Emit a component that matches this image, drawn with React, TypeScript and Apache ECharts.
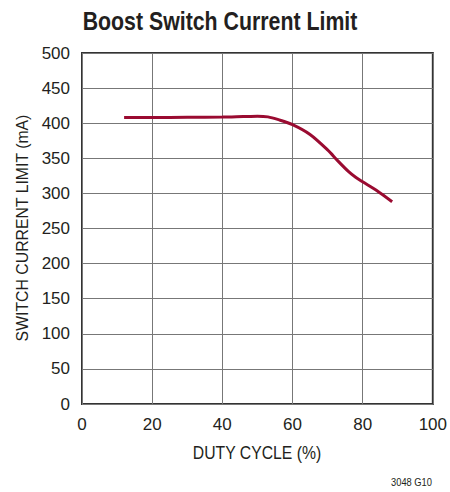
import React, { useEffect, useRef } from "react";
import * as echarts from "echarts";

const titleText = "Boost Switch Current Limit";
const xAxisName = "DUTY CYCLE (%)";
const yAxisName = "SWITCH CURRENT LIMIT (mA)";
const footnote = "3048 G10";

const dutyCycle = [12, 20, 30, 40, 46, 50, 53, 56, 60, 65, 70, 73, 76, 78, 80, 84, 88.4];
const currentLimit = [408, 408, 408.3, 408.7, 409.5, 410, 409, 405, 398, 384, 362, 346, 331, 323, 316.5, 304, 288];

const FONT = "'Liberation Sans', Arial, sans-serif";
const INK = "#231f20";

export default function App() {
  const ref = useRef<HTMLDivElement>(null);
  useEffect(() => {
    if (!ref.current) return;
    const chart = echarts.init(ref.current, undefined, { renderer: "svg" });
    const data = dutyCycle.map((d, i) => [d, currentLimit[i]]);
    chart.setOption({
      animation: false,
      backgroundColor: "#ffffff",
      grid: {
        left: 82,
        top: 53,
        width: 351,
        height: 351,
        show: true,
        borderColor: "#333333",
        borderWidth: 2,
        backgroundColor: "transparent",
      },
      xAxis: {
        type: "value",
        min: 0,
        max: 100,
        interval: 20,
        axisLine: { show: false },
        axisTick: { show: false },
        axisLabel: { fontFamily: FONT, fontSize: 17, color: INK, margin: 12 },
        splitLine: { show: true, lineStyle: { color: "#777777", width: 1 } },
      },
      yAxis: {
        type: "value",
        min: 0,
        max: 500,
        interval: 50,
        axisLine: { show: false },
        axisTick: { show: false },
        axisLabel: { fontFamily: FONT, fontSize: 17, color: INK, margin: 12 },
        splitLine: { show: true, lineStyle: { color: "#777777", width: 1 } },
      },
      graphic: [
        {
          type: "text",
          x: 220,
          y: 21,
          scaleX: 0.82,
          style: {
            text: titleText,
            font: `bold 26px ${FONT}`,
            fill: INK,
            textAlign: "center",
            textVerticalAlign: "middle",
          },
        },
        {
          type: "text",
          x: 257,
          y: 452,
          scaleX: 0.83,
          style: {
            text: xAxisName,
            font: `19px ${FONT}`,
            fill: INK,
            textAlign: "center",
            textVerticalAlign: "middle",
          },
        },
        {
          type: "text",
          x: 22,
          y: 228,
          rotation: Math.PI / 2,
          scaleX: 0.93,
          style: {
            text: yAxisName,
            font: `17px ${FONT}`,
            fill: INK,
            textAlign: "center",
            textVerticalAlign: "middle",
          },
        },
        {
          type: "text",
          x: 432,
          y: 482,
          scaleX: 0.85,
          style: {
            text: footnote,
            font: `11px ${FONT}`,
            fill: INK,
            textAlign: "right",
            textVerticalAlign: "middle",
          },
        },
      ],
      series: [
        {
          type: "line",
          data,
          smooth: 0.3,
          showSymbol: false,
          lineStyle: { color: "#9a0b31", width: 3 },
          z: 5,
        },
      ],
    });
    return () => chart.dispose();
  }, []);
  return <div ref={ref} style={{ position: "fixed", left: 0, top: 0, width: 450, height: 492 }} />;
}
